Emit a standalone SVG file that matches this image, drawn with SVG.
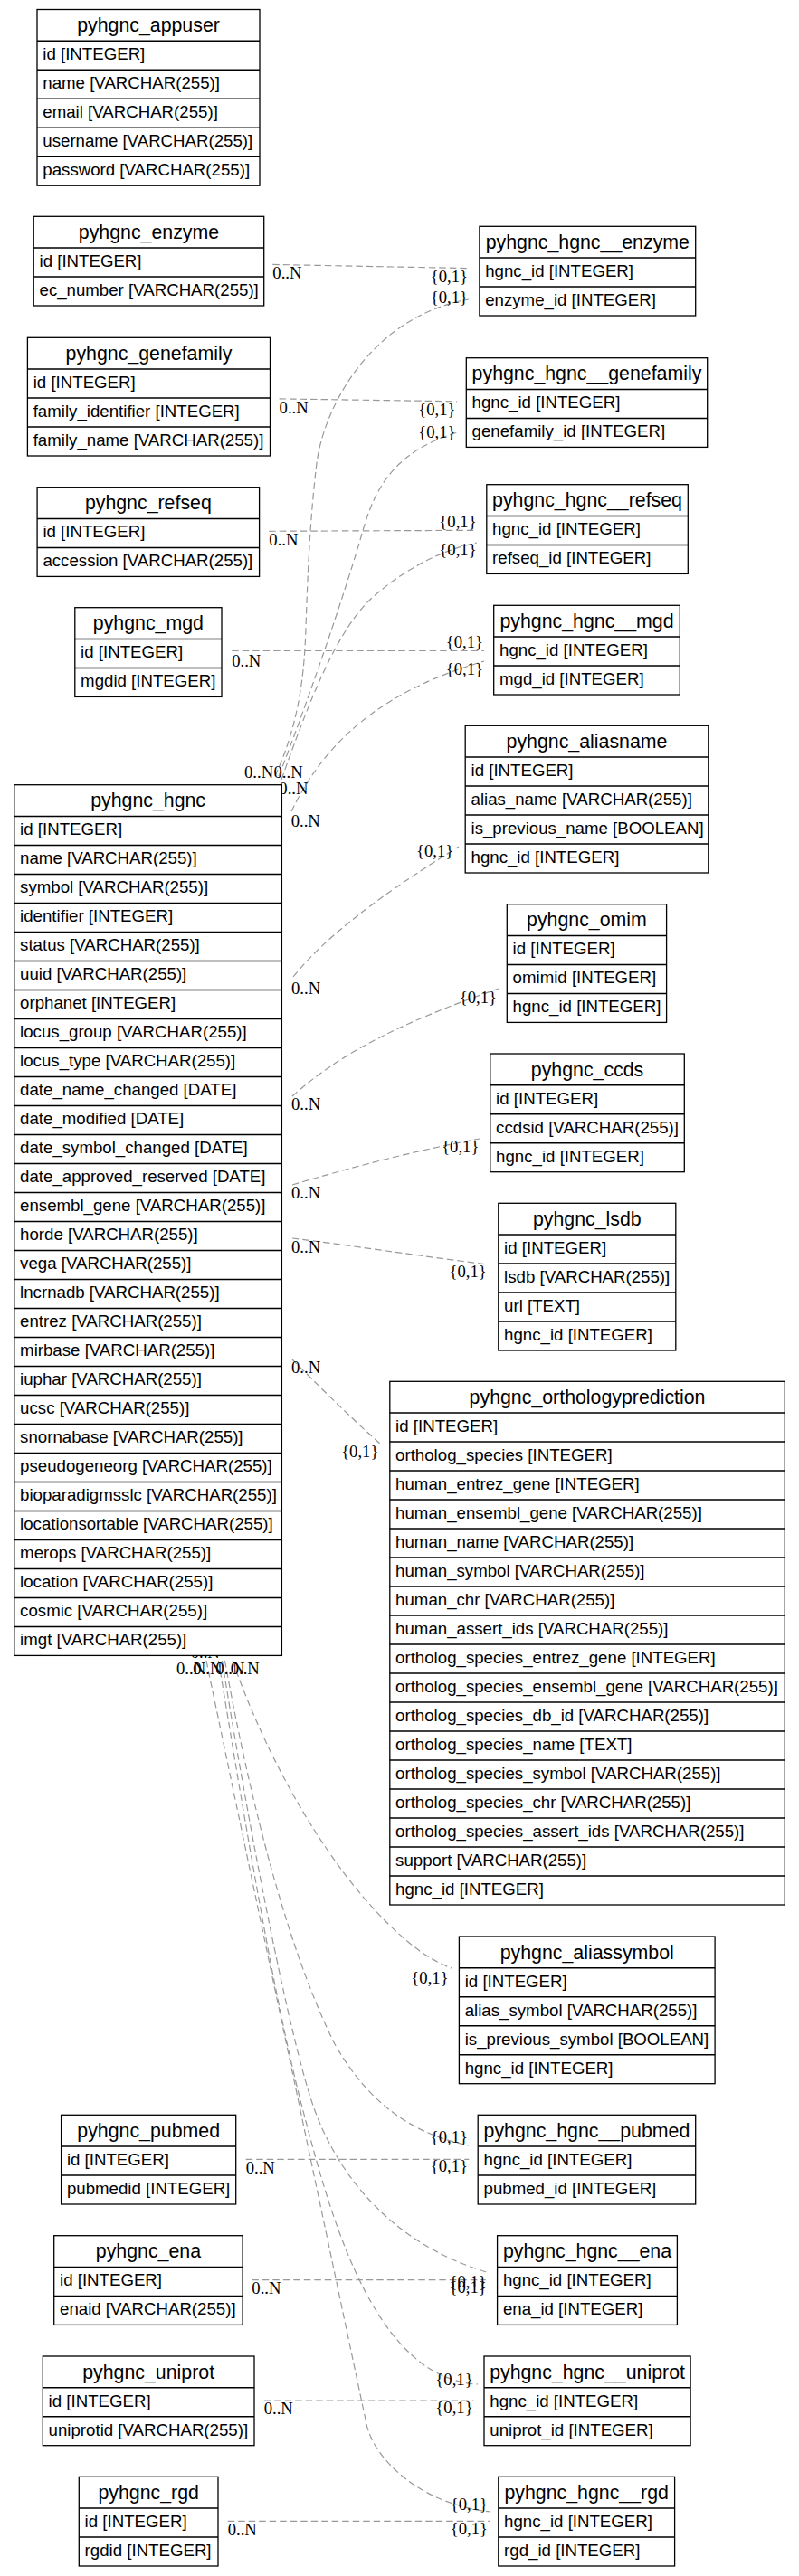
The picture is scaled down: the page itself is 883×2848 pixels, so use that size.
<svg xmlns="http://www.w3.org/2000/svg" width="883" height="2848" viewBox="0 0 883 2848">
<style>
.n rect{fill:#fff;stroke:#000;stroke-width:1.3}
.n path{fill:none;stroke:#000;stroke-width:1.5}
.t{font-family:"Liberation Sans",Arial,Helvetica,sans-serif;font-size:21.33px;text-anchor:middle;fill:#000}
.c{font-family:"Liberation Sans",Arial,Helvetica,sans-serif;font-size:18.67px;fill:#000}
#edges path{fill:none;stroke:#999;stroke-width:1.2;stroke-dasharray:7.5 4}
.l{font-family:"Liberation Serif","Times New Roman",serif;font-size:18.67px;fill:#000}
.h{text-anchor:end}
</style>
<rect x="0" y="0" width="883" height="2848" fill="#fff"/>
<g id="edges">
<path d="M301.3 292.4 L518.3 296.6"/>
<path d="M304 858 C326 810 336 760 338 695 C340 630 343 570 350 512 C358 450 410 350 518 331"/>
<path d="M308.6 440.9 L505 443.8"/>
<path d="M308 858 C335 790 380 660 400 590 C412 548 430 500 506 478"/>
<path d="M297.3 587.3 L526.7 586.3"/>
<path d="M311 862 C340 780 370 700 410 662 C440 635 480 610 527 600"/>
<path d="M256.2 719.5 L535 719.5"/>
<path d="M322 897 C350 840 400 770 535 731"/>
<path d="M324 1080 C360 1035 420 990 507 936"/>
<path d="M323 1212 C370 1170 430 1135 551 1093"/>
<path d="M323 1310 C390 1290 460 1272 530 1259"/>
<path d="M323 1369 C380 1376 460 1388 539 1398"/>
<path d="M323 1503 C350 1530 385 1565 421 1597"/>
<path d="M257 1836 C295 1945 360 2060 430 2128 C455 2152 475 2167 499 2176"/>
<path d="M248.5 1836 C278 2000 320 2160 370 2260 C410 2330 460 2360 518 2372"/>
<path d="M271.7 2387.3 L518.3 2387.3"/>
<path d="M245.5 1836 C278 2040 320 2250 345 2325 C370 2400 430 2480 538 2512"/>
<path d="M278.3 2520.7 L536.7 2520.7"/>
<path d="M241.5 1836 C262 1960 300 2200 334 2330 C362 2437 410 2630 528 2636"/>
<path d="M291.7 2654 L523.3 2654"/>
<path d="M228 1836 C287 2120 347 2405 405 2680 C412 2715 460 2768 542 2777"/>
<path d="M251.7 2787.3 L541.7 2787.3"/>
<text class="l" x="301.3" y="308">0..N</text>
<text class="l" x="308.6" y="456.7">0..N</text>
<text class="l" x="297.3" y="603">0..N</text>
<text class="l" x="256.2" y="736.5">0..N</text>
<text class="l" x="270" y="859.6">0..N</text>
<text class="l" x="302.5" y="859.6">0..N</text>
<text class="l" x="308.3" y="878.3">0..N</text>
<text class="l" x="321.7" y="913.5">0..N</text>
<text class="l" x="322" y="1098.7">0..N</text>
<text class="l" x="322" y="1226.7">0..N</text>
<text class="l" x="322" y="1325">0..N</text>
<text class="l" x="322" y="1385">0..N</text>
<text class="l" x="322" y="1518.3">0..N</text>
<text class="l" x="210.7" y="1833.3">0..N</text>
<text class="l" x="195" y="1851">0..N</text>
<text class="l" x="213.3" y="1851">0..N</text>
<text class="l" x="238.3" y="1851">0..N</text>
<text class="l" x="254.7" y="1851">0..N</text>
<text class="l" x="271.7" y="2402.5">0..N</text>
<text class="l" x="278.3" y="2536">0..N</text>
<text class="l" x="291.7" y="2669.3">0..N</text>
<text class="l" x="251.7" y="2802.7">0..N</text>
<text class="l h" x="517" y="312">{0,1}</text>
<text class="l h" x="517" y="334.5">{0,1}</text>
<text class="l h" x="503.5" y="458.5">{0,1}</text>
<text class="l h" x="503.5" y="484">{0,1}</text>
<text class="l h" x="526.6" y="582.5">{0,1}</text>
<text class="l h" x="526.6" y="614">{0,1}</text>
<text class="l h" x="534" y="715.5">{0,1}</text>
<text class="l h" x="534" y="746">{0,1}</text>
<text class="l h" x="501.2" y="946.5">{0,1}</text>
<text class="l h" x="549" y="1108.5">{0,1}</text>
<text class="l h" x="529.4" y="1273.5">{0,1}</text>
<text class="l h" x="537.8" y="1411.5">{0,1}</text>
<text class="l h" x="418.4" y="1610.5">{0,1}</text>
<text class="l h" x="495.6" y="2193">{0,1}</text>
<text class="l h" x="517" y="2368.5">{0,1}</text>
<text class="l h" x="517" y="2400.5">{0,1}</text>
<text class="l h" x="537.8" y="2528.5">{0,1}</text>
<text class="l h" x="537.8" y="2535">{0,1}</text>
<text class="l h" x="522.6" y="2636.6">{0,1}</text>
<text class="l h" x="522.6" y="2668.3">{0,1}</text>
<text class="l h" x="539" y="2775">{0,1}</text>
<text class="l h" x="539" y="2801.6">{0,1}</text>
</g>
<g id="pyhgnc_appuser" class="n">
<rect x="41" y="10.5" width="246" height="194.7"/>
<path d="M41 45.2H287M41 77.2H287M41 109.2H287M41 141.2H287M41 173.2H287"/>
<text class="t" x="164" y="35">pyhgnc_appuser</text>
<text class="c" x="47.3" y="66.2">id [INTEGER]</text>
<text class="c" x="47.3" y="98.2">name [VARCHAR(255)]</text>
<text class="c" x="47.3" y="130.2">email [VARCHAR(255)]</text>
<text class="c" x="47.3" y="162.2">username [VARCHAR(255)]</text>
<text class="c" x="47.3" y="194.2">password [VARCHAR(255)]</text>
</g>
<g id="pyhgnc_enzyme" class="n">
<rect x="37.2" y="239.3" width="254.5" height="98.7"/>
<path d="M37.2 274H291.7M37.2 306H291.7"/>
<text class="t" x="164.45" y="263.8">pyhgnc_enzyme</text>
<text class="c" x="43.5" y="295">id [INTEGER]</text>
<text class="c" x="43.5" y="327">ec_number [VARCHAR(255)]</text>
</g>
<g id="pyhgnc_genefamily" class="n">
<rect x="30.4" y="373.3" width="268.1" height="130.7"/>
<path d="M30.4 408H298.5M30.4 440H298.5M30.4 472H298.5"/>
<text class="t" x="164.45" y="397.8">pyhgnc_genefamily</text>
<text class="c" x="36.7" y="429">id [INTEGER]</text>
<text class="c" x="36.7" y="461">family_identifier [INTEGER]</text>
<text class="c" x="36.7" y="493">family_name [VARCHAR(255)]</text>
</g>
<g id="pyhgnc_refseq" class="n">
<rect x="41.1" y="538.7" width="245.5" height="98.7"/>
<path d="M41.1 573.4H286.6M41.1 605.4H286.6"/>
<text class="t" x="163.85" y="563.2">pyhgnc_refseq</text>
<text class="c" x="47.4" y="594.4">id [INTEGER]</text>
<text class="c" x="47.4" y="626.4">accession [VARCHAR(255)]</text>
</g>
<g id="pyhgnc_mgd" class="n">
<rect x="82.8" y="671.7" width="162.2" height="98.7"/>
<path d="M82.8 706.4H245M82.8 738.4H245"/>
<text class="t" x="163.9" y="696.2">pyhgnc_mgd</text>
<text class="c" x="89.1" y="727.4">id [INTEGER]</text>
<text class="c" x="89.1" y="759.4">mgdid [INTEGER]</text>
</g>
<g id="pyhgnc_hgnc" class="n">
<rect x="15.8" y="867.7" width="295.6" height="962.7"/>
<path d="M15.8 902.4H311.4M15.8 934.4H311.4M15.8 966.4H311.4M15.8 998.4H311.4M15.8 1030.4H311.4M15.8 1062.4H311.4M15.8 1094.4H311.4M15.8 1126.4H311.4M15.8 1158.4H311.4M15.8 1190.4H311.4M15.8 1222.4H311.4M15.8 1254.4H311.4M15.8 1286.4H311.4M15.8 1318.4H311.4M15.8 1350.4H311.4M15.8 1382.4H311.4M15.8 1414.4H311.4M15.8 1446.4H311.4M15.8 1478.4H311.4M15.8 1510.4H311.4M15.8 1542.4H311.4M15.8 1574.4H311.4M15.8 1606.4H311.4M15.8 1638.4H311.4M15.8 1670.4H311.4M15.8 1702.4H311.4M15.8 1734.4H311.4M15.8 1766.4H311.4M15.8 1798.4H311.4"/>
<text class="t" x="163.6" y="892.2">pyhgnc_hgnc</text>
<text class="c" x="22.1" y="923.4">id [INTEGER]</text>
<text class="c" x="22.1" y="955.4">name [VARCHAR(255)]</text>
<text class="c" x="22.1" y="987.4">symbol [VARCHAR(255)]</text>
<text class="c" x="22.1" y="1019.4">identifier [INTEGER]</text>
<text class="c" x="22.1" y="1051.4">status [VARCHAR(255)]</text>
<text class="c" x="22.1" y="1083.4">uuid [VARCHAR(255)]</text>
<text class="c" x="22.1" y="1115.4">orphanet [INTEGER]</text>
<text class="c" x="22.1" y="1147.4">locus_group [VARCHAR(255)]</text>
<text class="c" x="22.1" y="1179.4">locus_type [VARCHAR(255)]</text>
<text class="c" x="22.1" y="1211.4">date_name_changed [DATE]</text>
<text class="c" x="22.1" y="1243.4">date_modified [DATE]</text>
<text class="c" x="22.1" y="1275.4">date_symbol_changed [DATE]</text>
<text class="c" x="22.1" y="1307.4">date_approved_reserved [DATE]</text>
<text class="c" x="22.1" y="1339.4">ensembl_gene [VARCHAR(255)]</text>
<text class="c" x="22.1" y="1371.4">horde [VARCHAR(255)]</text>
<text class="c" x="22.1" y="1403.4">vega [VARCHAR(255)]</text>
<text class="c" x="22.1" y="1435.4">lncrnadb [VARCHAR(255)]</text>
<text class="c" x="22.1" y="1467.4">entrez [VARCHAR(255)]</text>
<text class="c" x="22.1" y="1499.4">mirbase [VARCHAR(255)]</text>
<text class="c" x="22.1" y="1531.4">iuphar [VARCHAR(255)]</text>
<text class="c" x="22.1" y="1563.4">ucsc [VARCHAR(255)]</text>
<text class="c" x="22.1" y="1595.4">snornabase [VARCHAR(255)]</text>
<text class="c" x="22.1" y="1627.4">pseudogeneorg [VARCHAR(255)]</text>
<text class="c" x="22.1" y="1659.4">bioparadigmsslc [VARCHAR(255)]</text>
<text class="c" x="22.1" y="1691.4">locationsortable [VARCHAR(255)]</text>
<text class="c" x="22.1" y="1723.4">merops [VARCHAR(255)]</text>
<text class="c" x="22.1" y="1755.4">location [VARCHAR(255)]</text>
<text class="c" x="22.1" y="1787.4">cosmic [VARCHAR(255)]</text>
<text class="c" x="22.1" y="1819.4">imgt [VARCHAR(255)]</text>
</g>
<g id="pyhgnc_pubmed" class="n">
<rect x="67.6" y="2338.3" width="193.1" height="98.7"/>
<path d="M67.6 2373H260.7M67.6 2405H260.7"/>
<text class="t" x="164.15" y="2362.8">pyhgnc_pubmed</text>
<text class="c" x="73.9" y="2394">id [INTEGER]</text>
<text class="c" x="73.9" y="2426">pubmedid [INTEGER]</text>
</g>
<g id="pyhgnc_ena" class="n">
<rect x="59.7" y="2471.7" width="208.4" height="98.7"/>
<path d="M59.7 2506.4H268.1M59.7 2538.4H268.1"/>
<text class="t" x="163.9" y="2496.2">pyhgnc_ena</text>
<text class="c" x="66" y="2527.4">id [INTEGER]</text>
<text class="c" x="66" y="2559.4">enaid [VARCHAR(255)]</text>
</g>
<g id="pyhgnc_uniprot" class="n">
<rect x="47.3" y="2605" width="233.7" height="98.7"/>
<path d="M47.3 2639.7H281M47.3 2671.7H281"/>
<text class="t" x="164.15" y="2629.5">pyhgnc_uniprot</text>
<text class="c" x="53.6" y="2660.7">id [INTEGER]</text>
<text class="c" x="53.6" y="2692.7">uniprotid [VARCHAR(255)]</text>
</g>
<g id="pyhgnc_rgd" class="n">
<rect x="87.3" y="2738.3" width="153.7" height="98.7"/>
<path d="M87.3 2773H241M87.3 2805H241"/>
<text class="t" x="164.15" y="2762.8">pyhgnc_rgd</text>
<text class="c" x="93.6" y="2794">id [INTEGER]</text>
<text class="c" x="93.6" y="2826">rgdid [INTEGER]</text>
</g>
<g id="pyhgnc_hgnc__enzyme" class="n">
<rect x="529.9" y="250.3" width="238.8" height="98.7"/>
<path d="M529.9 285H768.7M529.9 317H768.7"/>
<text class="t" x="649.3" y="274.8">pyhgnc_hgnc__enzyme</text>
<text class="c" x="536.2" y="306">hgnc_id [INTEGER]</text>
<text class="c" x="536.2" y="338">enzyme_id [INTEGER]</text>
</g>
<g id="pyhgnc_hgnc__genefamily" class="n">
<rect x="515.3" y="395.7" width="266.4" height="98.7"/>
<path d="M515.3 430.4H781.7M515.3 462.4H781.7"/>
<text class="t" x="648.5" y="420.2">pyhgnc_hgnc__genefamily</text>
<text class="c" x="521.6" y="451.4">hgnc_id [INTEGER]</text>
<text class="c" x="521.6" y="483.4">genefamily_id [INTEGER]</text>
</g>
<g id="pyhgnc_hgnc__refseq" class="n">
<rect x="537.8" y="535.7" width="222.5" height="98.7"/>
<path d="M537.8 570.4H760.3M537.8 602.4H760.3"/>
<text class="t" x="649.05" y="560.2">pyhgnc_hgnc__refseq</text>
<text class="c" x="544.1" y="591.4">hgnc_id [INTEGER]</text>
<text class="c" x="544.1" y="623.4">refseq_id [INTEGER]</text>
</g>
<g id="pyhgnc_hgnc__mgd" class="n">
<rect x="545.7" y="669.3" width="205.6" height="98.7"/>
<path d="M545.7 704H751.3M545.7 736H751.3"/>
<text class="t" x="648.5" y="693.8">pyhgnc_hgnc__mgd</text>
<text class="c" x="552" y="725">hgnc_id [INTEGER]</text>
<text class="c" x="552" y="757">mgd_id [INTEGER]</text>
</g>
<g id="pyhgnc_aliasname" class="n">
<rect x="514.2" y="802.3" width="268.6" height="162.7"/>
<path d="M514.2 837H782.8M514.2 869H782.8M514.2 901H782.8M514.2 933H782.8"/>
<text class="t" x="648.5" y="826.8">pyhgnc_aliasname</text>
<text class="c" x="520.5" y="858">id [INTEGER]</text>
<text class="c" x="520.5" y="890">alias_name [VARCHAR(255)]</text>
<text class="c" x="520.5" y="922">is_previous_name [BOOLEAN]</text>
<text class="c" x="520.5" y="954">hgnc_id [INTEGER]</text>
</g>
<g id="pyhgnc_omim" class="n">
<rect x="560.3" y="999.7" width="176.3" height="130.7"/>
<path d="M560.3 1034.4H736.6M560.3 1066.4H736.6M560.3 1098.4H736.6"/>
<text class="t" x="648.45" y="1024.2">pyhgnc_omim</text>
<text class="c" x="566.6" y="1055.4">id [INTEGER]</text>
<text class="c" x="566.6" y="1087.4">omimid [INTEGER]</text>
<text class="c" x="566.6" y="1119.4">hgnc_id [INTEGER]</text>
</g>
<g id="pyhgnc_ccds" class="n">
<rect x="541.8" y="1165" width="214.5" height="130.7"/>
<path d="M541.8 1199.7H756.3M541.8 1231.7H756.3M541.8 1263.7H756.3"/>
<text class="t" x="649.05" y="1189.5">pyhgnc_ccds</text>
<text class="c" x="548.1" y="1220.7">id [INTEGER]</text>
<text class="c" x="548.1" y="1252.7">ccdsid [VARCHAR(255)]</text>
<text class="c" x="548.1" y="1284.7">hgnc_id [INTEGER]</text>
</g>
<g id="pyhgnc_lsdb" class="n">
<rect x="550.8" y="1330.3" width="196" height="162.7"/>
<path d="M550.8 1365H746.8M550.8 1397H746.8M550.8 1429H746.8M550.8 1461H746.8"/>
<text class="t" x="648.8" y="1354.8">pyhgnc_lsdb</text>
<text class="c" x="557.1" y="1386">id [INTEGER]</text>
<text class="c" x="557.1" y="1418">lsdb [VARCHAR(255)]</text>
<text class="c" x="557.1" y="1450">url [TEXT]</text>
<text class="c" x="557.1" y="1482">hgnc_id [INTEGER]</text>
</g>
<g id="pyhgnc_orthologyprediction" class="n">
<rect x="430.8" y="1527.3" width="436.5" height="578.7"/>
<path d="M430.8 1562H867.3M430.8 1594H867.3M430.8 1626H867.3M430.8 1658H867.3M430.8 1690H867.3M430.8 1722H867.3M430.8 1754H867.3M430.8 1786H867.3M430.8 1818H867.3M430.8 1850H867.3M430.8 1882H867.3M430.8 1914H867.3M430.8 1946H867.3M430.8 1978H867.3M430.8 2010H867.3M430.8 2042H867.3M430.8 2074H867.3"/>
<text class="t" x="649.05" y="1551.8">pyhgnc_orthologyprediction</text>
<text class="c" x="437.1" y="1583">id [INTEGER]</text>
<text class="c" x="437.1" y="1615">ortholog_species [INTEGER]</text>
<text class="c" x="437.1" y="1647">human_entrez_gene [INTEGER]</text>
<text class="c" x="437.1" y="1679">human_ensembl_gene [VARCHAR(255)]</text>
<text class="c" x="437.1" y="1711">human_name [VARCHAR(255)]</text>
<text class="c" x="437.1" y="1743">human_symbol [VARCHAR(255)]</text>
<text class="c" x="437.1" y="1775">human_chr [VARCHAR(255)]</text>
<text class="c" x="437.1" y="1807">human_assert_ids [VARCHAR(255)]</text>
<text class="c" x="437.1" y="1839">ortholog_species_entrez_gene [INTEGER]</text>
<text class="c" x="437.1" y="1871">ortholog_species_ensembl_gene [VARCHAR(255)]</text>
<text class="c" x="437.1" y="1903">ortholog_species_db_id [VARCHAR(255)]</text>
<text class="c" x="437.1" y="1935">ortholog_species_name [TEXT]</text>
<text class="c" x="437.1" y="1967">ortholog_species_symbol [VARCHAR(255)]</text>
<text class="c" x="437.1" y="1999">ortholog_species_chr [VARCHAR(255)]</text>
<text class="c" x="437.1" y="2031">ortholog_species_assert_ids [VARCHAR(255)]</text>
<text class="c" x="437.1" y="2063">support [VARCHAR(255)]</text>
<text class="c" x="437.1" y="2095">hgnc_id [INTEGER]</text>
</g>
<g id="pyhgnc_aliassymbol" class="n">
<rect x="507.4" y="2141" width="282.7" height="162.7"/>
<path d="M507.4 2175.7H790.1M507.4 2207.7H790.1M507.4 2239.7H790.1M507.4 2271.7H790.1"/>
<text class="t" x="648.75" y="2165.5">pyhgnc_aliassymbol</text>
<text class="c" x="513.7" y="2196.7">id [INTEGER]</text>
<text class="c" x="513.7" y="2228.7">alias_symbol [VARCHAR(255)]</text>
<text class="c" x="513.7" y="2260.7">is_previous_symbol [BOOLEAN]</text>
<text class="c" x="513.7" y="2292.7">hgnc_id [INTEGER]</text>
</g>
<g id="pyhgnc_hgnc__pubmed" class="n">
<rect x="528.2" y="2338.3" width="240.5" height="98.7"/>
<path d="M528.2 2373H768.7M528.2 2405H768.7"/>
<text class="t" x="648.45" y="2362.8">pyhgnc_hgnc__pubmed</text>
<text class="c" x="534.5" y="2394">hgnc_id [INTEGER]</text>
<text class="c" x="534.5" y="2426">pubmed_id [INTEGER]</text>
</g>
<g id="pyhgnc_hgnc__ena" class="n">
<rect x="549.6" y="2471.7" width="198.8" height="98.7"/>
<path d="M549.6 2506.4H748.4M549.6 2538.4H748.4"/>
<text class="t" x="649" y="2496.2">pyhgnc_hgnc__ena</text>
<text class="c" x="555.9" y="2527.4">hgnc_id [INTEGER]</text>
<text class="c" x="555.9" y="2559.4">ena_id [INTEGER]</text>
</g>
<g id="pyhgnc_hgnc__uniprot" class="n">
<rect x="535" y="2605" width="228.1" height="98.7"/>
<path d="M535 2639.7H763.1M535 2671.7H763.1"/>
<text class="t" x="649.05" y="2629.5">pyhgnc_hgnc__uniprot</text>
<text class="c" x="541.3" y="2660.7">hgnc_id [INTEGER]</text>
<text class="c" x="541.3" y="2692.7">uniprot_id [INTEGER]</text>
</g>
<g id="pyhgnc_hgnc__rgd" class="n">
<rect x="550.8" y="2738.3" width="194.8" height="98.7"/>
<path d="M550.8 2773H745.6M550.8 2805H745.6"/>
<text class="t" x="648.2" y="2762.8">pyhgnc_hgnc__rgd</text>
<text class="c" x="557.1" y="2794">hgnc_id [INTEGER]</text>
<text class="c" x="557.1" y="2826">rgd_id [INTEGER]</text>
</g>
</svg>
